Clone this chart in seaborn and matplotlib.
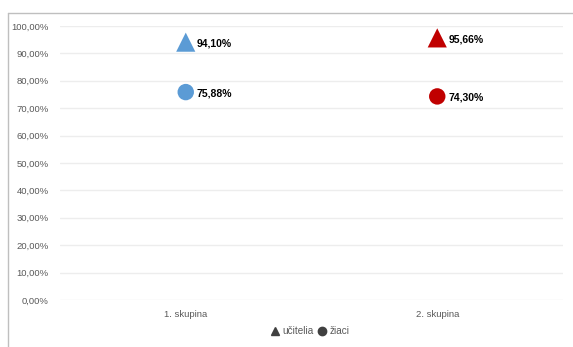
import matplotlib
matplotlib.use("Agg")
import matplotlib.pyplot as plt
import matplotlib.lines as mlines
import seaborn as sns
import pandas as pd

categories = ["1. skupina", "2. skupina"]
ucitelia = [94.10, 95.66]
ziaci = [75.88, 74.30]
colors = ["#5B9BD5", "#C00000"]
yticks = list(range(0, 101, 10))

sns.set_theme(style="white")
plt.rcParams['font.family'] = ['Liberation Sans', 'DejaVu Sans']

fig = plt.figure(figsize=(5.73, 3.47), dpi=100)
ax = fig.add_axes([60/573, 1-300/347, 503/573, 274/347])

rows = []
for i, c in enumerate(categories):
    rows.append({"cat": c, "x": i, "val": ucitelia[i], "series": "učitelia"})
    rows.append({"cat": c, "x": i, "val": ziaci[i], "series": "žiaci"})
df = pd.DataFrame(rows)

for s, m, sz in [("učitelia", "^", 190), ("žiaci", "o", 140)]:
    d = df[df.series == s]
    sns.scatterplot(data=d, x="x", y="val", marker=m, s=sz, hue="cat",
                    palette=dict(zip(categories, colors)), linewidth=0,
                    legend=False, ax=ax)
    for _, r in d.iterrows():
        ax.annotate(f"{r.val:.2f}%".replace(".", ","), (r.x, r.val),
                    xytext=(8, -1), textcoords="offset points",
                    fontsize=7.5, fontweight="bold", color="#000000",
                    va="center", ha="left")

ax.set_xlim(-0.5, 1.5)
ax.set_ylim(0, 100)
ax.set_yticks(yticks)
ax.set_yticklabels([f"{v:.2f}%".replace(".", ",") for v in yticks])
ax.set_xticks([0, 1])
ax.set_xticklabels(categories)
ax.tick_params(axis="both", labelsize=6.8, colors="#595959", length=0)
ax.tick_params(axis="y", pad=8)
ax.tick_params(axis="x", pad=7)
ax.grid(axis="y", color="#EDEDED", linewidth=1)
ax.set_axisbelow(True)
for sp in ax.spines.values():
    sp.set_visible(False)
ax.set_xlabel("")
ax.set_ylabel("")

h1 = mlines.Line2D([], [], color="#404040", marker="^", linestyle="None", markersize=6)
h2 = mlines.Line2D([], [], color="#404040", marker="o", linestyle="None", markersize=6)
fig.legend([h1, h2], ["učitelia", "žiaci"], loc="center", bbox_to_anchor=(310/573, 1-331/347),
           ncol=2, frameon=False, fontsize=7.2, handletextpad=0.3, columnspacing=0.5,
           handlelength=0.8, labelcolor="#595959")

fig.add_artist(mlines.Line2D([8/573, 1], [1-13/347, 1-13/347], color="#BFBFBF", linewidth=1, transform=fig.transFigure))
fig.add_artist(mlines.Line2D([8/573, 8/573], [0, 1-13/347], color="#BFBFBF", linewidth=1, transform=fig.transFigure))

fig.savefig("out.png", dpi=100)
